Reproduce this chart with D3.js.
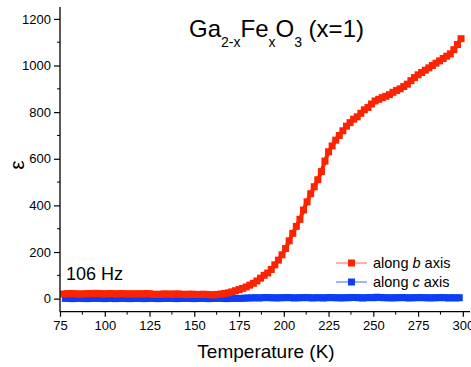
<!DOCTYPE html>
<html><head><meta charset="utf-8">
<script src="https://cdn.jsdelivr.net/npm/d3@7"></script>
<style>
body{margin:0;background:#fff;}
svg{display:block;font-family:"Liberation Sans",Arial,sans-serif;}
</style></head>
<body><svg id="c" width="471" height="367"></svg>
<script>
const xTicks = [75,100,125,150,175,200,225,250,275,300];
const yTicks = [0,200,400,600,800,1000,1200];
const redT = [77,79,81,83,85,87,89,91,93,95,97,99,101,103,105,107,109,111,113,115,117,119,121,123,125,127,129,131,133,135,137,139,141,143,145,147,149,151,153,155,157,159,161,163,165,167,169,171,173,175,177,179,181,183,185,187,189,191,193,195,197,199,201,203,205,207,209,211,213,215,217,219,221,223,225,227,229,231,233,235,237,239,241,243,245,247,249,251,253,255,257,259,261,263,265,267,269,271,273,275,277,279,281,283,285,287,289,291,293,295,297,299];
const redV = [20,21,22,21,20,20,21,22,21,23,22,20,21,22,21,20,22,21,20,21,20,21,20,22,21,19,18,19,20,20,19,20,20,19,18,19,19,18,18,19,18,17,16,18,20,22,25,29,34,39,44,50,58,66,76,88,100,110,125,145,165,188,215,248,280,310,340,380,415,450,480,510,545,590,630,655,680,700,720,740,755,770,780,795,810,820,835,848,855,862,868,875,885,893,900,910,920,935,948,960,970,980,990,1000,1010,1020,1030,1040,1050,1068,1090,1115];
const blueT = [78,80,82,84,86,88,90,92,94,96,98,100,102,104,106,108,110,112,114,116,118,120,122,124,126,128,130,132,134,136,138,140,142,144,146,148,150,152,154,156,158,160,162,164,166,168,170,172,174,176,178,180,182,184,186,188,190,192,194,196,198,200,202,204,206,208,210,212,214,216,218,220,222,224,226,228,230,232,234,236,238,240,242,244,246,248,250,252,254,256,258,260,262,264,266,268,270,272,274,276,278,280,282,284,286,288,290,292,294,296,298];
const blueV = [1,2,0,1,2,1,0,1,2,1,1,0,2,1,0,1,2,1,0,1,1,2,0,1,2,1,0,1,1,2,1,0,1,2,1,1,0,1,2,1,0,1,1,2,1,0,1,2,1,1,2,3,3,4,3,4,5,4,4,3,4,4,5,4,3,4,4,5,4,3,4,4,3,4,5,4,4,3,4,4,5,5,4,3,4,5,4,6,5,4,4,3,4,4,5,4,3,4,4,5,4,4,3,4,4,5,4,3,4,3,4];
const series = [
  {name:"b", T:redT, V:redV, col:"#fc2400", lineCol:"#ff8a78", label:["along ","b"," axis"]},
  {name:"c", T:blueT, V:blueV, col:"#0c3ef6", lineCol:"#6f8cff", label:["along ","c"," axis"]}
];

const svg = d3.select("#c");
const x = d3.scaleLinear().domain([75,304]).range([60,470]);
const y = d3.scaleLinear().domain([-56,1251]).range([311.7,7]);

// data
series.slice().reverse().forEach(s=>{
  const pts = s.T.map((t,i)=>[t,s.V[i]]);
  svg.append("path").datum(pts)
    .attr("fill","none").attr("stroke",s.col).attr("stroke-width",4)
    .attr("d",d3.line().x(d=>x(d[0])).y(d=>y(d[1])));
  svg.append("g").selectAll("rect").data(pts).join("rect")
    .attr("x",d=>x(d[0])-3.5).attr("y",d=>y(d[1])-3.5)
    .attr("width",7).attr("height",7).attr("fill",s.col);
});

// axes
const xMinor = d3.range(87.5,300,25);
const yMinor = d3.range(100,1300,200);
const xAxis = svg.append("g").attr("transform","translate(0,311.7)")
  .call(d3.axisBottom(x).tickValues(xTicks).tickSize(5).tickPadding(4).tickFormat(d3.format("d")));
xAxis.append("g").selectAll("line").data(xMinor).join("line")
  .attr("x1",d=>x(d)).attr("x2",d=>x(d)).attr("y1",0).attr("y2",3).attr("stroke","#000");
const yAxis = svg.append("g").attr("transform","translate(60,0)")
  .call(d3.axisLeft(y).tickValues(yTicks).tickSize(6).tickPadding(3).tickFormat(d3.format("d")));
yAxis.append("g").selectAll("line").data(yMinor.filter(v=>v<1251)).join("line")
  .attr("y1",d=>y(d)).attr("y2",d=>y(d)).attr("x1",0).attr("x2",-3).attr("stroke","#000");
[xAxis,yAxis].forEach(a=>{
  a.attr("font-family","Liberation Sans, Arial, sans-serif").attr("font-size",13);
  a.select(".domain").attr("stroke","#000").attr("stroke-width",1.3);
  a.selectAll(".tick line").attr("stroke","#000").attr("stroke-width",1.2);
  a.selectAll("text").attr("fill","#000");
});
xAxis.select(".domain").attr("d","M60,0H470");
yAxis.select(".domain").attr("d","M0,311.7V7");

// axis titles
svg.append("text").attr("x",266).attr("y",358).attr("text-anchor","middle")
  .attr("font-size",19).text("Temperature (K)");
svg.append("text").attr("transform","translate(24,165) rotate(-90)").attr("text-anchor","middle")
  .attr("font-size",21).text("ε");

// title
const t = svg.append("text").attr("x",189).attr("y",37).attr("font-size",24);
t.append("tspan").text("Ga");
t.append("tspan").attr("font-size",14).attr("dy",10).text("2-x");
t.append("tspan").attr("dy",-10).text("Fe");
t.append("tspan").attr("font-size",14).attr("dy",10).text("x");
t.append("tspan").attr("dy",-10).text("O");
t.append("tspan").attr("font-size",14).attr("dy",10).text("3");
t.append("tspan").attr("dy",-10).text(" (x=1)");

svg.append("text").attr("x",66).attr("y",280).attr("font-size",18).text("106 Hz");

// legend
series.forEach((s,i)=>{
  const yy = 263 + i*19;
  svg.append("line").attr("x1",336).attr("x2",367).attr("y1",yy).attr("y2",yy)
    .attr("stroke",s.lineCol).attr("stroke-width",1.3);
  svg.append("rect").attr("x",348).attr("y",yy-3.5).attr("width",7).attr("height",7).attr("fill",s.col);
  const lt = svg.append("text").attr("x",373).attr("y",yy+5).attr("font-size",14.5);
  lt.append("tspan").text(s.label[0]);
  lt.append("tspan").attr("font-style","italic").text(s.label[1]);
  lt.append("tspan").text(s.label[2]);
});
</script></body></html>
